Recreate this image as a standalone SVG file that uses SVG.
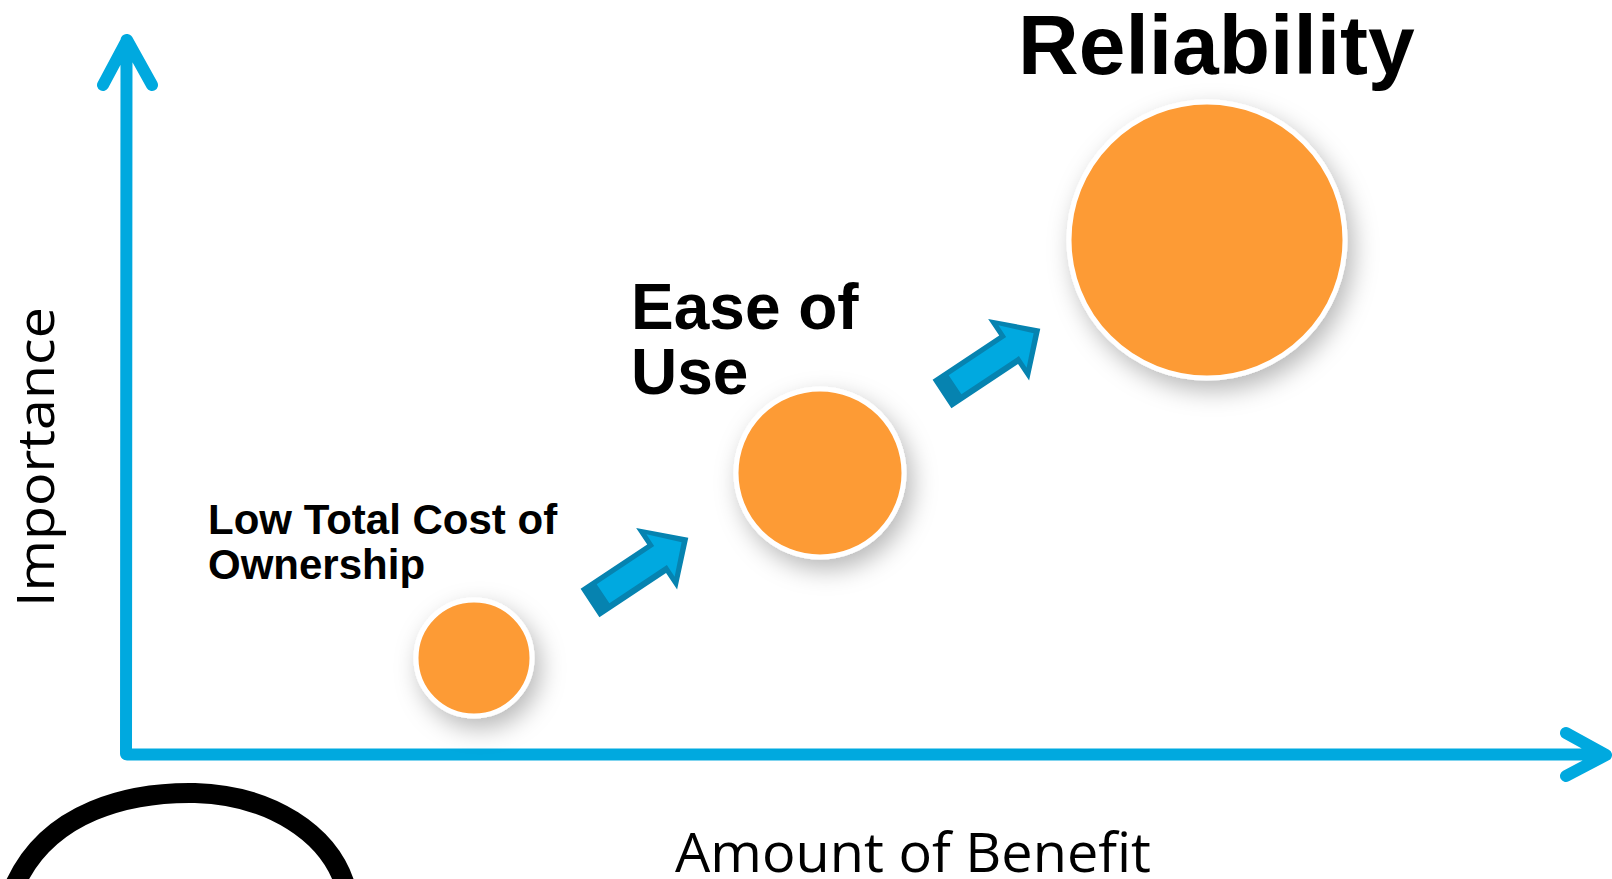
<svg xmlns="http://www.w3.org/2000/svg" width="1612" height="879" viewBox="0 0 1612 879">
<style>
.axis{fill:none;stroke:#00a9df;stroke-width:12;stroke-linecap:round;stroke-linejoin:round}
.bub{fill:#fd9b35;stroke:#ffffff;stroke-width:5}
.lbl{font-family:"Liberation Sans",Arial,sans-serif;font-weight:bold;fill:#000}
.ax{font-family:"Open Sans","Liberation Sans",sans-serif;fill:#000}
.ad{fill:#0683b0}
.al{fill:#00a9e0}
</style>
<defs>
<filter id="sh" x="-40%" y="-40%" width="180%" height="180%">
<feDropShadow dx="6" dy="10" stdDeviation="12" flood-color="#000" flood-opacity="0.28"/>
</filter>
<g id="arr">
<path class="ad" d="M0,-17 L80,-17 L80,-37 L118,0 L80,37 L80,17 L0,17 Z"/>
<path class="al" d="M16,-12 L85,-12 L85,-26 L110,0 L85,25 L85,11 L16,11 Z"/>
</g>
</defs>
<rect width="1612" height="879" fill="#fff"/>
<g id="connectors">
<path class="axis" d="M126.5,40 L126,754 M103,85 L127,40 L152,85"/>
<path class="axis" d="M127,754.5 L1604,754.5 M1566,733 L1606,755 L1566,776"/>
<use href="#arr" transform="translate(590,603) rotate(-33.6)"/>
<use href="#arr" transform="translate(942,394) rotate(-33.6)"/>
</g>
<g id="node-low">
<circle class="bub" cx="474" cy="658" r="58" filter="url(#sh)"/>
<text class="lbl" font-size="42" x="208" y="534">Low Total Cost of</text>
<text class="lbl" font-size="42" x="208" y="579">Ownership</text>
</g>
<g id="node-ease">
<circle class="bub" cx="820" cy="473" r="84" filter="url(#sh)"/>
<text class="lbl" font-size="64" x="631" y="329">Ease of</text>
<text class="lbl" font-size="64" x="631" y="394">Use</text>
</g>
<g id="node-rel">
<circle class="bub" cx="1207" cy="240" r="138" filter="url(#sh)"/>
<text class="lbl" font-size="84" x="1018" y="74">Reliability</text>
</g>
<g id="axis-labels">
<text class="ax" font-size="52" transform="translate(54,607) rotate(-90)" textLength="300" lengthAdjust="spacingAndGlyphs">Importance</text>
<text class="ax" font-size="54" x="675" y="872" textLength="476" lengthAdjust="spacingAndGlyphs">Amount of Benefit</text>
</g>
<path d="M12,892 C45,808 135,792 195,793 C268,795 332,832 347,892" fill="none" stroke="#000" stroke-width="20"/>
</svg>
